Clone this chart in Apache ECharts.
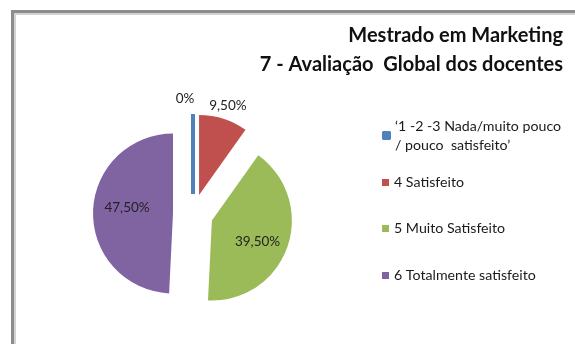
<!DOCTYPE html>
<html>
<head>
<meta charset="utf-8">
<script src="https://cdn.jsdelivr.net/npm/echarts@6/dist/echarts.min.js"></script>
<style>
  html, body { margin: 0; padding: 0; background: #fff; }
  #chart { width: 575px; height: 344px; }
</style>
</head>
<body>
<div id="chart"></div>
<script>
// Survey answers: overall evaluation of the teaching staff
const categories = [
  '\u20181 -2 -3 Nada/muito pouco\n/ pouco  satisfeito\u2019',
  '4 Satisfeito',
  '5 Muito Satisfeito',
  '6 Totalmente satisfeito'
];
const shares = [0, 9.5, 39.5, 47.5];
const colors = ['#4F81BD', '#C0504D', '#9BBB59', '#8064A2'];
const labelPlacement = ['outside', 'outside', 'inside', 'inside'];
const titleLines = ['Mestrado em Marketing', '7 - Avalia\u00e7\u00e3o  Global dos docentes'];

const FONT = 'Lato, "Open Sans", sans-serif';

function pct(v) {
  return v === 0 ? '0%' : v.toFixed(2).replace('.', ',') + '%';
}

const pieData = categories.map((name, i) => ({
  name: name,
  value: shares[i],
  selected: true,
  itemStyle: {
    color: colors[i],
    borderColor: colors[i],
    borderWidth: shares[i] === 0 ? 4 : 0,
    borderJoin: 'bevel'
  },
  label: { position: labelPlacement[i] }
}));

// one legend block per entry so each row sits at its own height
const legendTops = [107, 173, 219, 266];
const legends = categories.map((name, i) => ({
  data: [name],
  orient: 'vertical',
  left: 382,
  top: legendTops[i],
  padding: 0,
  icon: 'rect',
  itemWidth: 7,
  itemHeight: 7,
  selectedMode: false,
  textStyle: {
    fontFamily: FONT,
    fontSize: 14.2,
    color: '#1a1a1a',
    lineHeight: 19,
    padding: i === 0 ? [19, 0, 0, 0] : 0
  }
}));

// small nudges for the labels
const labelNudge = [[-3, 0], [-3, 2], [5, 7], [-3, -5]];

// right-aligned two-line heading
const titleText = titleLines.map((line, i) => ({
  type: 'text', silent: true,
  right: 12, top: 26 + i * 29,
  style: {
    text: line,
    fontFamily: FONT,
    fontSize: 20,
    fontWeight: 'bold',
    fill: '#111'
  }
}));

const chart = echarts.init(document.getElementById('chart'), null, { renderer: 'canvas' });
chart.setOption({
  animation: false,
  backgroundColor: '#ffffff',
  legend: legends,
  graphic: [
    {
      type: 'rect', silent: true, z: -10,
      shape: { x: 12.5, y: 11.5, width: 800, height: 600 },
      style: { fill: null, stroke: '#8c8c8c', lineWidth: 3 }
    },
    {
      type: 'rect', silent: true, z: -10,
      shape: { x: 15, y: 14, width: 800, height: 600 },
      style: { fill: null, stroke: '#d2d2d2', lineWidth: 2 }
    }
  ].concat(titleText),
  series: [{
    type: 'pie',
    center: [193, 214],
    radius: 80,
    startAngle: 90,
    clockwise: true,
    selectedMode: 'multiple',
    selectedOffset: 20,
    avoidLabelOverlap: false,
    label: {
      show: true,
      formatter: p => pct(p.value),
      fontFamily: FONT,
      fontSize: 13.5,
      color: '#222'
    },
    labelLine: { show: false, length: 8, length2: 0 },
    labelLayout: function (params) {
      const n = labelNudge[params.dataIndex];
      if (labelPlacement[params.dataIndex] === 'outside') {
        return { align: 'center', verticalAlign: 'bottom', dx: n[0], dy: n[1] };
      }
      return { dx: n[0], dy: n[1] };
    },
    emphasis: { disabled: true },
    data: pieData
  }]
});
</script>
</body>
</html>
